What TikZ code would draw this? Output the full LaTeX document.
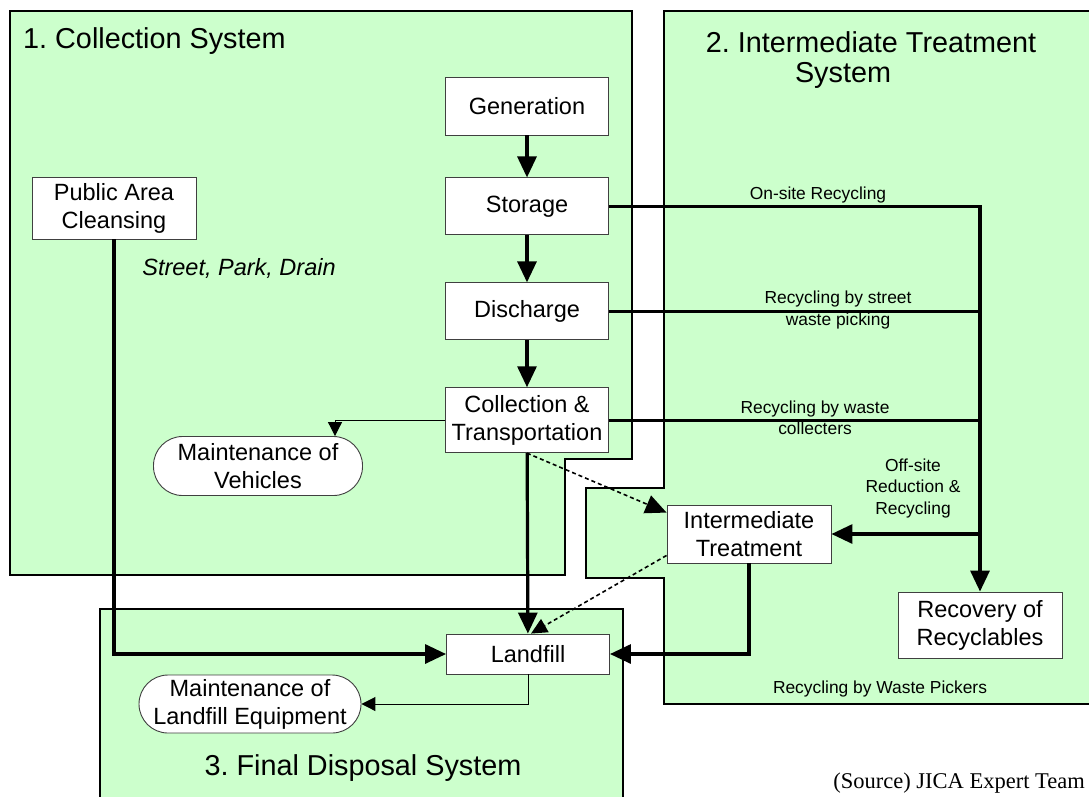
\documentclass[tikz,border=0pt]{standalone}
\usepackage{fontspec}
\setmainfont{Liberation Sans}
\newfontfamily\srcfont{Liberation Serif}
\usetikzlibrary{arrows.meta,positioning}
\definecolor{zone}{RGB}{204,255,204}
\frenchspacing

\begin{document}
\begin{tikzpicture}[x=1pt,y=-1pt,>={Triangle[length=21pt,width=19pt]}]
\tikzstyle{box}=[draw=black!75,fill=white,line width=0.9pt,align=center,inner sep=1pt,minimum width=163pt,minimum height=58pt,font=\fontsize{23.5}{28}\selectfont]
\tikzstyle{pill}=[box,rounded corners=29pt]
\tikzstyle{zonebox}=[draw=black,fill=zone,line width=1.8pt]
\tikzstyle{thk}=[line width=3.2pt]
\tikzstyle{thn}=[line width=1pt,-{Triangle[length=14pt,width=14pt]}]
\tikzstyle{dsh}=[line width=1.6pt,dash pattern=on 4pt off 3pt]
\tikzstyle{lbl}=[align=center,inner sep=0pt,font=\fontsize{17.4}{21.5}\selectfont]
\tikzstyle{ttl}=[inner sep=0pt,font=\fontsize{28.8}{33}\selectfont]

\useasboundingbox (0,0) rectangle (1089,796);

% the three systems
\draw[zonebox] (10,11) -- (632,11) -- (632,459) -- (565,459) -- (565,575) -- (10,575) -- cycle;
\draw[zonebox] (664,11) -- (1100,11) -- (1100,704) -- (664,704) -- (664,578) -- (586,578) -- (586,488) -- (664,488) -- cycle;
\draw[zonebox] (100,820) -- (100,609) -- (623,609) -- (623,820);

\node[ttl,anchor=west] (t1) at (23,41) {1. Collection System};
\node[ttl] (t2a) at (871,42) {2. Intermediate Treatment};
\node[ttl] (t2b) at (843,75) {System};
\node[ttl] (t3) at (363,768) {3. Final Disposal System};

% main flow
\node[box] (gen) at (527,106) {Generation};
\node[box,below=42pt of gen,minimum height=57pt] (sto) {Storage};
\node[box,below=47pt of sto,minimum height=57pt] (dis) {Discharge};
\node[box,below=47pt of dis,minimum height=65pt] (col) {Collection \&\\Transportation};
\node[box,minimum width=164pt,minimum height=62pt] (pac) at (114,208) {Public Area\\Cleansing};
\node[pill,minimum width=209pt,minimum height=59pt] (mveh) at (258,466) {Maintenance of\\Vehicles};
\node[box,minimum width=164pt] (itr) at (749,534) {Intermediate\\Treatment};
\node[box,minimum width=164pt,minimum height=66pt] (rec) at (980,625) {Recovery of\\Recyclables};
\node[box,minimum height=40pt] (lf) at (528,654) {Landfill};
\node[pill,minimum width=222pt,minimum height=58pt] (mlf) at (250,704) {Maintenance of\\Landfill Equipment};

\draw[thk,->] (gen) -- (sto);
\draw[thk,->] (sto) -- (dis);
\draw[thk,->] (dis) -- (col);
\draw[thk,->] (col) -- (lf);
\draw[thk,->] (sto.east) -| (rec.north);
\draw[thk] (dis.east) -- (dis.east -| rec.north);
\draw[thk] (col.east) -- (col.east -| rec.north);
\draw[thk,->] (rec.north |- itr.east) -- (itr.east);
\draw[thk,->] (itr.south) |- (lf.east);
\draw[thk,->] (pac.south) |- (lf.west);
\draw[thn] (col.west) -| ([xshift=77pt]mveh.north);
\draw[thn] (lf.south) |- (mlf.east);
\draw[dsh,->] (col.south) -- ([yshift=-8pt]itr.north west);
\draw[dsh,-{Triangle[length=16pt,width=15pt]}] ([yshift=8pt]itr.south west) -- ([xshift=3pt]lf.north);

% labels
\node[font=\fontsize{23.5}{26}\selectfont\itshape] (spd) at (239,268) {Street, Park, Drain};
\node[lbl] (onsite) at (818,195) {On-site Recycling};
\node[lbl] (street) at (838,310) {Recycling by street\\waste picking};
\node[lbl] (wcol) at (815,418) {Recycling by waste\\collecters};
\node[lbl] (offsite) at (913,488) {Off-site\\Reduction \&\\Recycling};
\node[lbl] (pick) at (880,689) {Recycling by Waste Pickers};
\node[anchor=east,inner sep=0pt,font=\srcfont\fontsize{22.5}{26}\selectfont] (src) at (1085,783) {(Source) JICA Expert Team};
\end{tikzpicture}
\end{document}
